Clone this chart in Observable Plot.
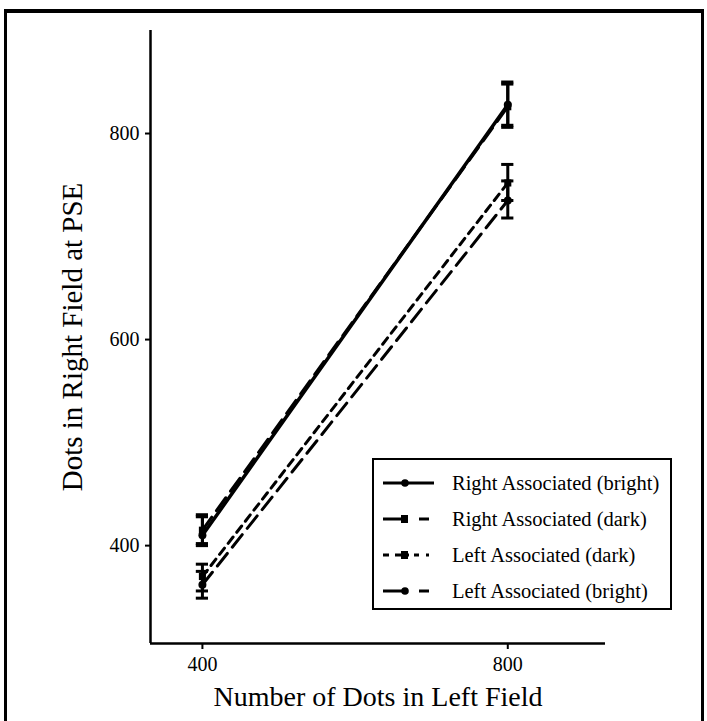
<!DOCTYPE html>
<html><head><meta charset="utf-8">
<script src="https://cdn.jsdelivr.net/npm/d3@7"></script>
<script src="https://cdn.jsdelivr.net/npm/@observablehq/plot@0.6"></script>
<style>
body{margin:0;background:#fff;font-family:"Liberation Serif","DejaVu Serif",serif;}
#wrap{position:relative;width:707px;height:721px;overflow:hidden;}
#border{position:absolute;left:4px;top:9px;width:700px;height:720px;border:3px solid #000;border-top-width:4px;box-sizing:border-box;pointer-events:none;}
#legend{position:absolute;left:372px;top:458px;width:300px;height:152px;border:2px solid #000;box-sizing:border-box;background:#fff;}
.row{position:absolute;left:8px;height:22px;display:flex;align-items:center;font-size:20.5px;white-space:nowrap;}
.row svg{margin-right:17px;}
</style></head><body>
<div id="wrap"><div id="chart"></div><div id="border"></div><div id="legend"></div></div>
<script>
const xValues = [400, 800];
const seriesNames = ["Right Associated (bright)", "Right Associated (dark)", "Left Associated (dark)", "Left Associated (bright)"];
const rightBright = [410, 828];
const rightDark = [415, 826];
const leftDark = [370, 752];
const leftBright = [362, 735];
const errLow = [[400, 806], [402, 808], [356, 735], [349, 718]];
const errHigh = [[428, 850], [430, 848], [382, 770], [375, 754]];
const xTicks = [400, 800];
const yTicks = [400, 600, 800];
const xDomain = [332, 928];
const yDomain = [305, 900];

const dashes = [null, "16,8", "8,6", "16,8"];
const widths = [3.5, 3, 3, 3];
const symbols = ["circle", "square", "square", "circle"];
const allVals = [rightBright, rightDark, leftDark, leftBright];
const data = [];
seriesNames.forEach((s, i) => xValues.forEach((x, j) => data.push({series: s, idx: i, x, y: allVals[i][j], lo: errLow[i][j], hi: errHigh[i][j]})));

const marks = [
  Plot.ruleX([xDomain[0]], {y1: yDomain[0], y2: yDomain[1], strokeWidth: 2.5}),
  Plot.ruleY([yDomain[0]], {x1: xDomain[0], x2: xDomain[1], strokeWidth: 2.5}),
];
seriesNames.forEach((s, i) => {
  const d = data.filter(r => r.idx === i);
  marks.push(Plot.line(d, {x: "x", y: "y", stroke: "black", strokeWidth: widths[i], strokeDasharray: dashes[i]}));
});
marks.push(Plot.ruleX(data, {x: "x", y1: "lo", y2: "hi", strokeWidth: 3}));
marks.push(Plot.ruleY(data, {y: "lo", x1: d => d.x - 8, x2: d => d.x + 8, strokeWidth: 3}));
marks.push(Plot.ruleY(data, {y: "hi", x1: d => d.x - 8, x2: d => d.x + 8, strokeWidth: 3}));
marks.push(Plot.dot(data, {x: "x", y: "y", symbol: d => symbols[d.idx], fill: "black", r: 4}));
marks.push(Plot.axisX(xTicks, {tickSize: 6, tickPadding: 7, fontSize: 20, label: "Number of Dots in Left Field", labelAnchor: "center", labelOffset: 62, labelArrow: "none", strokeWidth: 2}));
marks.push(Plot.axisY(yTicks, {tickSize: 5, tickPadding: 6, fontSize: 20, label: "Dots in Right Field at PSE", labelAnchor: "center", labelOffset: 89, labelArrow: "none", strokeWidth: 2}));

const chart = Plot.plot({
  width: 707, height: 721,
  marginLeft: 150, marginRight: 102, marginTop: 30, marginBottom: 78,
  x: {domain: xDomain},
  y: {domain: yDomain},
  symbol: {type: "identity"},
  style: {fontFamily: "Liberation Serif, serif", color: "black", background: "white"},
  marks
});
chart.querySelectorAll("g[aria-label='x-axis label'] text").forEach(t => t.style.fontSize = "28px");
chart.querySelectorAll("g[aria-label='y-axis label'] text").forEach(t => t.style.fontSize = "29px");
document.getElementById("chart").appendChild(chart);

// legend
const leg = document.getElementById("legend");
const rowsY = [12, 48, 84, 120];
seriesNames.forEach((s, i) => {
  const row = document.createElement("div");
  row.className = "row";
  row.style.top = rowsY[i] + "px";
  const ns = "http://www.w3.org/2000/svg";
  const sv = document.createElementNS(ns, "svg");
  sv.setAttribute("width", 53); sv.setAttribute("height", 12);
  const ln = document.createElementNS(ns, "line");
  ln.setAttribute("x1", 1); ln.setAttribute("x2", 52); ln.setAttribute("y1", 6); ln.setAttribute("y2", 6);
  ln.setAttribute("stroke", "black"); ln.setAttribute("stroke-width", 3);
  if (i === 1 || i === 3) ln.setAttribute("stroke-dasharray", "25,11,10,10");
  if (i === 2) ln.setAttribute("stroke-dasharray", "6,6,14,5,5,7,3,10");
  sv.appendChild(ln);
  let m;
  if (symbols[i] === "circle") { m = document.createElementNS(ns, "circle"); m.setAttribute("cx", 23); m.setAttribute("cy", 6); m.setAttribute("r", 3.8); }
  else { m = document.createElementNS(ns, "rect"); m.setAttribute("x", 19); m.setAttribute("y", 2); m.setAttribute("width", 7); m.setAttribute("height", 8); }
  sv.appendChild(m);
  row.appendChild(sv);
  const t = document.createElement("span"); t.textContent = s; row.appendChild(t);
  leg.appendChild(row);
});
</script></body></html>
